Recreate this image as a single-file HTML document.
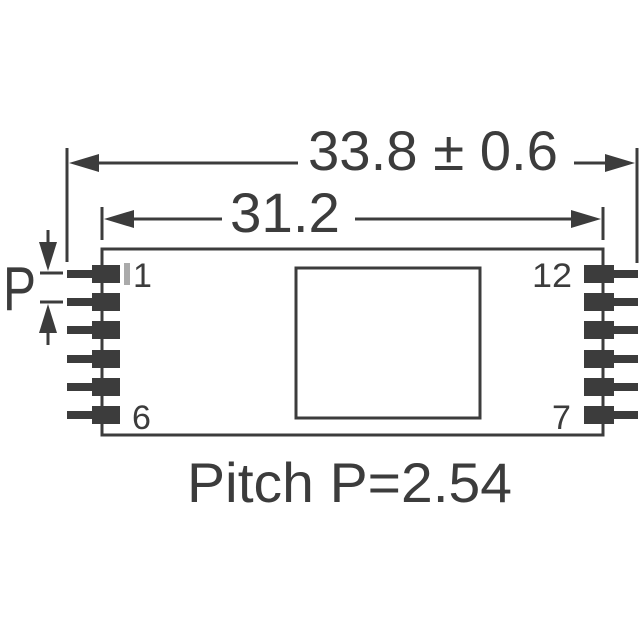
<!DOCTYPE html>
<html><head><style>html,body{margin:0;padding:0;background:#fff}svg{display:block}</style></head>
<body>
<svg width="640" height="640" viewBox="0 0 640 640" xmlns="http://www.w3.org/2000/svg">
<g stroke="#3c3c3c" stroke-width="3" fill="none">
  <line x1="67" y1="148" x2="67" y2="262"/>
  <line x1="637" y1="148" x2="637" y2="263"/>
  <line x1="102" y1="207" x2="102" y2="240"/>
  <line x1="603" y1="207" x2="603" y2="240"/>
  <line x1="96" y1="163" x2="298" y2="163"/>
  <line x1="574" y1="163" x2="610" y2="163"/>
  <line x1="130" y1="219" x2="222" y2="219"/>
  <line x1="355" y1="219" x2="575" y2="219"/>
  <rect x="102" y="249" width="501" height="186"/>
  <rect x="296" y="268" width="184" height="150"/>
  <line x1="48" y1="230" x2="48" y2="245"/>
  <line x1="48" y1="330" x2="48" y2="345"/>
  <line x1="40" y1="273" x2="63" y2="273"/>
  <line x1="40" y1="302" x2="63" y2="302"/>
</g>
<g fill="#3c3c3c">
  <polygon points="69,163 99,154 99,172"/>
  <polygon points="635,163 605,154 605,172"/>
  <polygon points="104,219 134,210 134,228"/>
  <polygon points="601,219 571,210 571,228"/>
  <polygon points="48,271 39,242 57,242"/>
  <polygon points="48,304 39,333 57,333"/>
  <g>
    <rect x="67" y="270" width="27" height="8"/><rect x="92" y="265" width="28" height="18"/>
    <rect x="67" y="298" width="27" height="8"/><rect x="92" y="293" width="28" height="18"/>
    <rect x="67" y="326" width="27" height="8"/><rect x="92" y="321" width="28" height="18"/>
    <rect x="67" y="355" width="27" height="8"/><rect x="92" y="350" width="28" height="18"/>
    <rect x="67" y="383" width="27" height="8"/><rect x="92" y="378" width="28" height="18"/>
    <rect x="67" y="411" width="27" height="8"/><rect x="92" y="406" width="28" height="18"/>
  </g>
  <g>
    <rect x="611" y="270" width="27" height="8"/><rect x="584" y="265" width="30" height="18"/>
    <rect x="611" y="298" width="27" height="8"/><rect x="584" y="293" width="30" height="18"/>
    <rect x="611" y="326" width="27" height="8"/><rect x="584" y="321" width="30" height="18"/>
    <rect x="611" y="355" width="27" height="8"/><rect x="584" y="350" width="30" height="18"/>
    <rect x="611" y="383" width="27" height="8"/><rect x="584" y="378" width="30" height="18"/>
    <rect x="611" y="411" width="27" height="8"/><rect x="584" y="406" width="30" height="18"/>
  </g>
</g>
<rect x="124" y="263" width="6" height="22" fill="#aaa"/>
<g fill="#3c3c3c" font-family="Liberation Sans, sans-serif">
  <text x="308" y="170" font-size="56" textLength="250" lengthAdjust="spacingAndGlyphs">33.8 ± 0.6</text>
  <text x="230" y="232" font-size="56" textLength="110" lengthAdjust="spacingAndGlyphs">31.2</text>
  <text x="187" y="502" font-size="56" textLength="325" lengthAdjust="spacingAndGlyphs">Pitch P=2.54</text>
  <text x="3" y="310" font-size="62" textLength="33" lengthAdjust="spacingAndGlyphs">P</text>
  <text x="133" y="287" font-size="34">1</text>
  <text x="532" y="287" font-size="34" textLength="40" lengthAdjust="spacingAndGlyphs">12</text>
  <text x="132" y="429" font-size="34">6</text>
  <text x="552" y="429" font-size="34">7</text>
</g>
</svg>
</body></html>
